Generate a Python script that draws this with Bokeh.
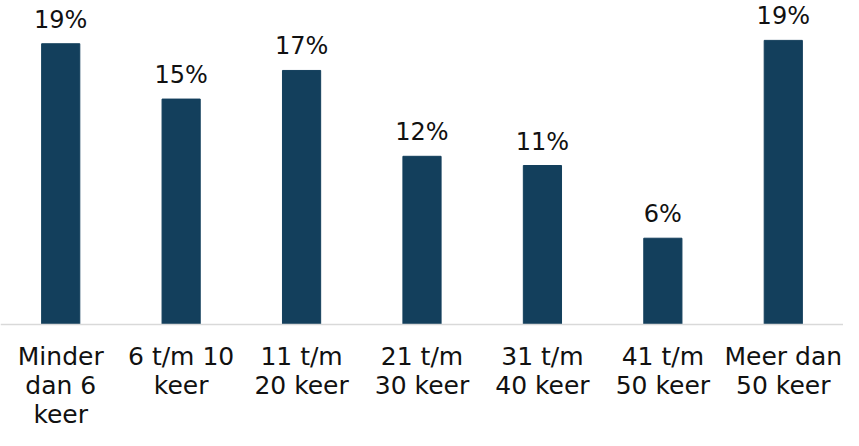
from bokeh.plotting import figure
from bokeh.models import ColumnDataSource, FactorRange, Range1d, LabelSet, Span
from bokeh.core.properties import value
from bokeh.embed import file_html
from bokeh.resources import INLINE

categories = ["Minder\ndan 6\nkeer", "6 t/m 10\nkeer", "11 t/m\n20 keer", "21 t/m\n30 keer",
              "31 t/m\n40 keer", "41 t/m\n50 keer", "Meer dan\n50 keer"]
values = [19.23, 15.44, 17.40, 11.52, 10.89, 5.91, 19.46]
labels = ["19%", "15%", "17%", "12%", "11%", "6%", "19%"]

FONT = "DejaVu Sans"
BAR = "#133f5c"
TXT = "#111111"

src = ColumnDataSource(dict(cat=categories, val=values, lab=labels))

# category label lines (one row per line of each wrapped label)
line_cat, line_txt, line_off = [], [], []
for c in categories:
    for i, part in enumerate(c.split("\n")):
        line_cat.append(c)
        line_txt.append(part)
        line_off.append(-(40 + 29 * i))
cat_src = ColumnDataSource(dict(cat=line_cat, txt=line_txt, zero=[0] * len(line_cat), off=line_off))

px_per_unit = 14.6
base_px = 324
H = 430
p = figure(width=843, height=H, output_backend="svg", toolbar_location=None,
           x_range=FactorRange(factors=categories, range_padding=0),
           y_range=Range1d(-(H - base_px) / px_per_unit, base_px / px_per_unit),
           min_border_left=0, min_border_right=0, min_border_top=0, min_border_bottom=0)

p.vbar(x="cat", top="val", bottom=0, width=0.317, source=src, fill_color=BAR, line_color=BAR)

p.add_layout(Span(location=0, dimension="width", line_color="#d9d9d9", line_width=1.5))

p.add_layout(LabelSet(x="cat", y="val", text="lab", source=src, text_align="center",
                      text_baseline="alphabetic", y_offset=16, text_font=value(FONT),
                      text_font_size=value("24px"), text_color=TXT))

p.add_layout(LabelSet(x="cat", y="zero", text="txt", source=cat_src, text_align="center",
                      text_baseline="alphabetic", y_offset="off", text_font=value(FONT),
                      text_font_size=value("25px"), text_color=TXT))

p.outline_line_color = None
p.xgrid.grid_line_color = None
p.ygrid.grid_line_color = None
p.xaxis.visible = False
p.yaxis.visible = False

open("out.html", "w").write(file_html(p, INLINE))
